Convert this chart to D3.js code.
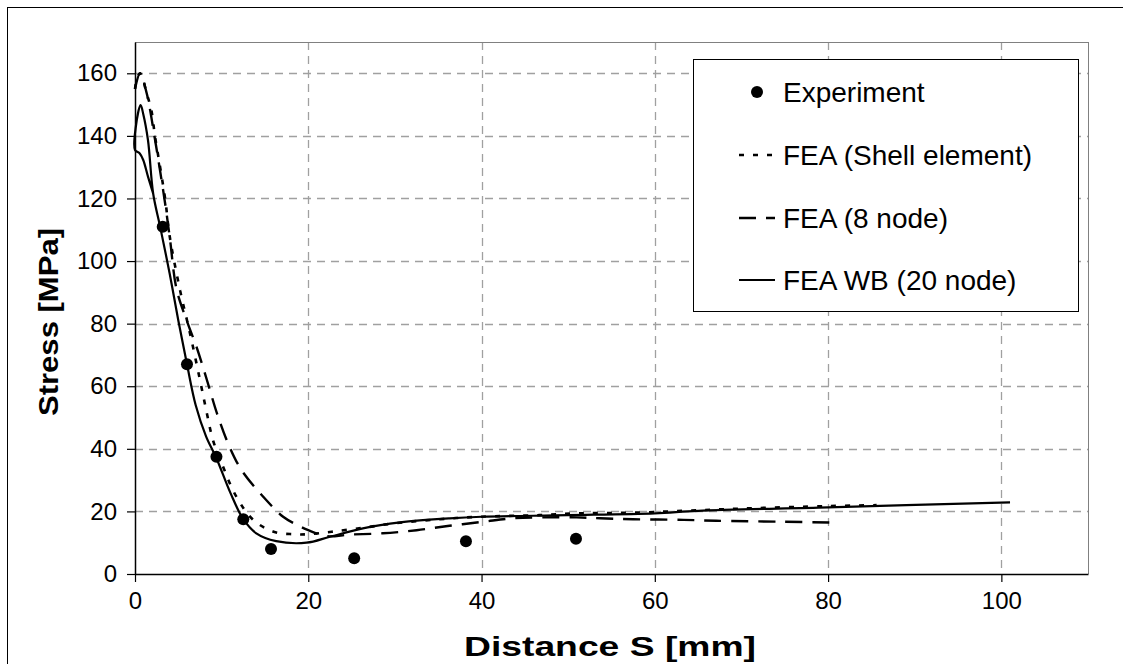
<!DOCTYPE html>
<html><head><meta charset="utf-8">
<script src="https://cdn.jsdelivr.net/npm/d3@7"></script>
<style>body{margin:0;background:#fff}svg{display:block;font-family:"Liberation Sans",Arial,sans-serif}</style>
</head><body><svg id="c" width="1123" height="664"></svg>
<script>
const xTicks = [0, 20, 40, 60, 80, 100];
const yTicks = [0, 20, 40, 60, 80, 100, 120, 140, 160];
const seriesNames = ["Experiment", "FEA (Shell element)", "FEA (8 node)", "FEA WB (20 node)"];

const expX = [3.2, 6.0, 9.4, 12.5, 15.7, 25.3, 38.2, 50.9];
const expY = [111, 67, 37.5, 17.5, 8, 5, 10.5, 11.3];

const shellX = [0, 0.3, 0.6, 1.35, 1.9, 2.3, 2.9, 3.5, 4.0, 5.2, 6.35, 7.5, 8.3, 9.0, 10.0, 11.7, 13.65, 16.0, 18.3, 20.0, 22.7, 26.4, 30.0, 35.2, 39.8, 46.7, 51.3, 57.5, 65.2, 71.0, 79.8, 85.6];
const shellY = [155, 159, 160, 153.6, 148, 140, 130, 119.5, 108, 90.7, 76.9, 62, 51.3, 42.8, 35.4, 24.7, 17.3, 13.5, 12.7, 12.7, 13.5, 14.8, 16.2, 17.5, 18.3, 18.8, 19.4, 19.6, 20.4, 21.0, 21.7, 22.0];

const node8X = [0, 0.6, 1.35, 2.3, 3.0, 3.5, 4.04, 4.8, 6.1, 7.1, 8.3, 9.5, 10.9, 12.3, 14.8, 17.1, 18.7, 20.0, 22.1, 24.8, 28.6, 32.5, 36.3, 40.2, 43.6, 47.1, 51.0, 53.7, 57.5, 63.3, 67.1, 74.8, 80.8];
const node8Y = [155, 160, 153.6, 139, 127, 118, 107, 91, 80, 72.6, 62, 51, 40.7, 33.2, 24.7, 18.3, 15.7, 14.0, 12.1, 12.6, 13.0, 14.0, 15.4, 16.7, 17.8, 18.1, 18.1, 17.8, 17.5, 17.3, 17.0, 16.7, 16.4];

const wbX = [2.1, 1.5, 0.95, 0.55, 0, 0.1, 0.65, 0.95, 1.5, 2.1, 2.9, 4.0, 5.0, 6.0, 7.0, 8.2, 9.4, 11.0, 12.5, 14.0, 16.3, 19.8, 22.5, 26.3, 30.6, 36.3, 40.0, 50.0, 60.0, 65.0, 80.0, 101.0];
const wbY = [121.5, 127, 132.3, 134.4, 135.5, 143, 149.8, 147, 138.6, 121.5, 111, 96, 81, 67, 54, 44, 37, 26, 17.5, 13, 10.5, 10, 11.9, 14.6, 16.5, 17.8, 18.3, 18.8, 19.4, 20.2, 21.3, 22.9];

const m = {left: 135, top: 42, right: 1088, bottom: 574};
const svg = d3.select("#c");

// outer frame (left & top visible)
svg.append("rect").attr("x", 7.5).attr("y", 7.5).attr("width", 1200).attr("height", 800)
  .attr("fill", "none").attr("stroke", "#000").attr("stroke-width", 1);

const x = d3.scaleLinear().domain([0, 110]).range([m.left, m.right]);
const y = d3.scaleLinear().domain([0, 170]).range([m.bottom, m.top]);

const grid = svg.append("g");
grid.selectAll(".hg").data(yTicks.filter(d => d > 0)).join("line")
  .attr("x1", m.left).attr("x2", m.right).attr("y1", d => Math.round(y(d)) + 0.5).attr("y2", d => Math.round(y(d)) + 0.5)
  .attr("stroke", "#a0a0a0").attr("stroke-width", 1.3).attr("stroke-dasharray", "8,6");
grid.selectAll(".vg").data(xTicks.filter(d => d > 0)).join("line")
  .attr("y1", m.top).attr("y2", m.bottom).attr("x1", d => Math.round(x(d)) + 0.5).attr("x2", d => Math.round(x(d)) + 0.5)
  .attr("stroke", "#a0a0a0").attr("stroke-width", 1.3).attr("stroke-dasharray", "8,6");

svg.append("line").attr("x1", m.left).attr("x2", m.right).attr("y1", m.top + 0.5).attr("y2", m.top + 0.5).attr("stroke", "#808080");
svg.append("line").attr("x1", m.right + 0.5).attr("x2", m.right + 0.5).attr("y1", m.top).attr("y2", m.bottom).attr("stroke", "#808080");

const xAxis = svg.append("g").attr("transform", `translate(0,${m.bottom})`)
  .call(d3.axisBottom(x).tickValues(xTicks).tickSize(8).tickPadding(10).tickSizeOuter(0));
const yAxis = svg.append("g").attr("transform", `translate(${m.left},0)`)
  .call(d3.axisLeft(y).tickValues(yTicks).tickSize(8).tickPadding(10).tickSizeOuter(0));
[xAxis, yAxis].forEach(a => {
  a.select(".domain").attr("stroke", "#000").attr("stroke-width", 1.5);
  a.selectAll(".tick line").attr("stroke", "#000").attr("stroke-width", 1.2);
  a.selectAll("text").attr("font-size", 24).attr("fill", "#000").attr("font-family", "Liberation Sans, Arial, sans-serif");
});

svg.append("text").attr("x", 610).attr("y", 656).attr("text-anchor", "middle")
  .attr("font-size", 28).attr("font-weight", "bold")
  .attr("textLength", 292).attr("lengthAdjust", "spacingAndGlyphs").text("Distance S [mm]");
svg.append("text").attr("transform", "translate(58,322) rotate(-90)").attr("text-anchor", "middle")
  .attr("font-size", 28).attr("font-weight", "bold")
  .attr("textLength", 188).attr("lengthAdjust", "spacingAndGlyphs").text("Stress [MPa]");

const line = d3.line().x(d => x(d[0])).y(d => y(d[1])).curve(d3.curveCatmullRom.alpha(0.5));
const zip = (a, b) => a.map((v, i) => [v, b[i]]);
const styles = [null, {dash: "5,9", w: 2.6}, {dash: "17,10", w: 2.4}, {dash: null, w: 2.2}];
const data = [null, zip(shellX, shellY), zip(node8X, node8Y), zip(wbX, wbY)];
[2, 1, 3].forEach(i => {
  svg.append("path").datum(data[i]).attr("d", line).attr("fill", "none")
    .attr("stroke", "#000").attr("stroke-width", styles[i].w)
    .attr("stroke-dasharray", styles[i].dash);
});
svg.selectAll(".exp").data(zip(expX, expY)).join("circle")
  .attr("cx", d => x(d[0])).attr("cy", d => y(d[1])).attr("r", 6).attr("fill", "#000");

const lg = svg.append("g");
lg.append("rect").attr("x", 693.5).attr("y", 59.5).attr("width", 385).attr("height", 252)
  .attr("fill", "#fff").attr("stroke", "#000").attr("stroke-width", 1);
const rowY = [92, 155, 218, 280];
seriesNames.forEach((name, i) => {
  if (i === 0) {
    lg.append("circle").attr("cx", 757).attr("cy", rowY[i]).attr("r", 6).attr("fill", "#000");
  } else {
    lg.append("line").attr("x1", 739).attr("x2", 775).attr("y1", rowY[i]).attr("y2", rowY[i])
      .attr("stroke", "#000").attr("stroke-width", styles[i].w).attr("stroke-dasharray", styles[i].dash);
  }
  lg.append("text").attr("x", 783).attr("y", rowY[i]).attr("dy", "0.36em")
    .attr("font-size", 28).attr("fill", "#000").text(name);
});
</script></body></html>
